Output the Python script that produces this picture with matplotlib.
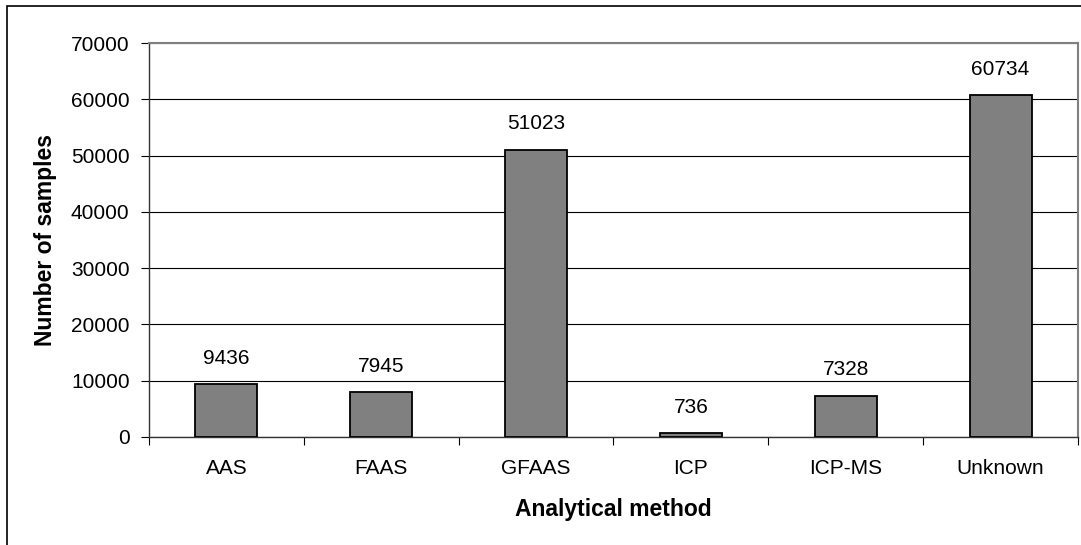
import matplotlib
matplotlib.use("Agg")
import matplotlib.pyplot as plt
from matplotlib.patches import Rectangle

methods = ["AAS", "FAAS", "GFAAS", "ICP", "ICP-MS", "Unknown"]
samples = [9436, 7945, 51023, 736, 7328, 60734]
yticks = [0, 10000, 20000, 30000, 40000, 50000, 60000, 70000]

plt.rcParams['font.family'] = ['Liberation Sans', 'DejaVu Sans']

fig = plt.figure(figsize=(10.81, 5.45), dpi=100)
ax = fig.add_axes([149 / 1081, 1 - 437 / 545, (1078 - 149) / 1081, (437 - 43) / 545])

# outer chart frame (runs off right/bottom like the reference)
fig.patches.append(Rectangle((7 / 1081, -0.1), 1.2, 1 - 6 / 545 + 0.1,
                             transform=fig.transFigure, fill=False,
                             edgecolor='black', linewidth=1.2))

x = list(range(len(methods)))
ax.bar(x, samples, width=0.4, color='#808080', edgecolor='black', linewidth=1.3, zorder=3)
for xi, v in zip(x, samples):
    ax.text(xi, v + 2900, str(v), ha='center', va='bottom', fontsize=15)

ax.set_xlim(-0.5, len(methods) - 0.5)
ax.set_ylim(0, 70000)
ax.set_yticks(yticks)
ax.set_yticklabels([str(t) for t in yticks], fontsize=15)
ax.yaxis.grid(True, color='black', linewidth=0.8, zorder=0)

ax.set_xticks([i - 0.5 for i in range(len(methods) + 1)])
ax.set_xticklabels([])
ax.set_xticks(x, minor=True)
ax.set_xticklabels(methods, minor=True, fontsize=15)
ax.tick_params(axis='x', which='minor', length=0, pad=16)
ax.tick_params(axis='x', which='major', length=6, direction='out', width=0.8)
ax.tick_params(axis='y', length=6, width=0.8, pad=8)

for s in ['top', 'right']:
    ax.spines[s].set_color('#808080')
    ax.spines[s].set_linewidth(1.5)
for s in ['left', 'bottom']:
    ax.spines[s].set_color('#333333')
    ax.spines[s].set_linewidth(1.0)

ax.set_xlabel("Analytical method", fontsize=16.5, fontweight='bold', labelpad=14)
ax.set_ylabel("Number of samples", fontsize=16.5, fontweight='bold', labelpad=10)

fig.savefig("out.png", dpi=100)
